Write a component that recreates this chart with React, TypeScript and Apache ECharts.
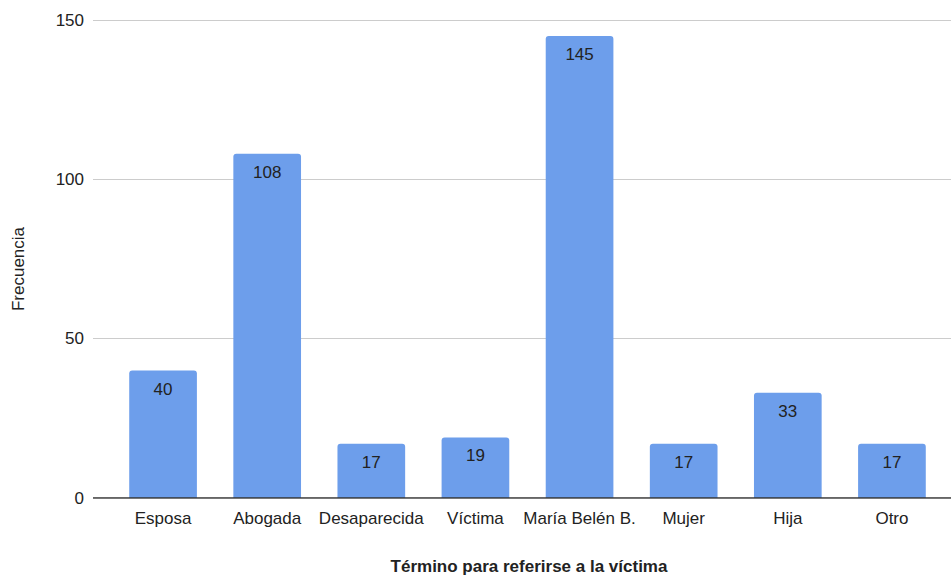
import React, { useEffect, useRef } from "react";
import * as echarts from "echarts";

const categories = ["Esposa", "Abogada", "Desaparecida", "Víctima", "María Belén B.", "Mujer", "Hija", "Otro"];
const values = [40, 108, 17, 19, 145, 17, 33, 17];
const yTicks = [0, 50, 100, 150];
const xTitle = "Término para referirse a la víctima";
const yTitle = "Frecuencia";

export default function App() {
  const ref = useRef<HTMLDivElement>(null);
  useEffect(() => {
    const chart = echarts.init(ref.current!, null, { renderer: "svg" });
    const font = "'Liberation Sans', Arial, sans-serif";
    chart.setOption({
      animation: false,
      backgroundColor: "#ffffff",
      textStyle: { fontFamily: font },
      grid: [
        { left: 93, right: 0, top: 20, bottom: 77, containLabel: false },
        { left: 111, right: 7, top: 20, bottom: 77, containLabel: false },
      ],
      xAxis: [
        {
          gridIndex: 0,
          type: "value",
          min: 0,
          max: 1,
          show: false,
        },
        {
          gridIndex: 1,
          type: "category",
          data: categories,
          axisLine: { show: false },
          axisTick: { show: false },
          axisLabel: { color: "#222222", fontSize: 17, margin: 12, fontFamily: font, interval: 0 },
        },
      ],
      yAxis: [
        {
          gridIndex: 0,
          type: "value",
          min: 0,
          max: yTicks[yTicks.length - 1],
          interval: 50,
          axisLine: { show: false },
          axisTick: { show: false },
          axisLabel: { color: "#222222", fontSize: 17, margin: 9, fontFamily: font },
          splitLine: { show: true, lineStyle: { color: "#cccccc", width: 1 } },
        },
        {
          gridIndex: 1,
          type: "value",
          min: 0,
          max: yTicks[yTicks.length - 1],
          interval: 50,
          show: false,
          splitLine: { show: false },
        },
      ],
      series: [
        {
          type: "line",
          xAxisIndex: 0,
          yAxisIndex: 0,
          data: [[0, 0], [1, 0]],
          symbol: "none",
          lineStyle: { color: "#333333", width: 1.3 },
          silent: true,
          z: 3,
        },
        {
          type: "bar",
          xAxisIndex: 1,
          yAxisIndex: 1,
          data: values,
          barWidth: "65%",
          itemStyle: { color: "#6d9eeb", borderRadius: [3, 3, 0, 0] },
          label: {
            show: true,
            position: "insideTop",
            distance: 10,
            color: "#222222",
            fontSize: 17,
            fontFamily: font,
          },
          z: 2,
        },
      ],
      graphic: [
        {
          type: "text",
          x: 529,
          y: 566,
          style: {
            text: xTitle,
            fontSize: 17,
            fontWeight: "bold",
            fill: "#222222",
            fontFamily: font,
            align: "center",
            verticalAlign: "middle",
          },
        },
        {
          type: "text",
          x: 10,
          y: 269,
          rotation: Math.PI / 2,
          style: {
            text: yTitle,
            fontSize: 17,
            fill: "#222222",
            fontFamily: font,
            align: "center",
            verticalAlign: "top",
          },
        },
      ],
    });
    return () => chart.dispose();
  }, []);
  return <div ref={ref} style={{ position: "fixed", left: 0, top: 0, width: 951, height: 575 }} />;
}
